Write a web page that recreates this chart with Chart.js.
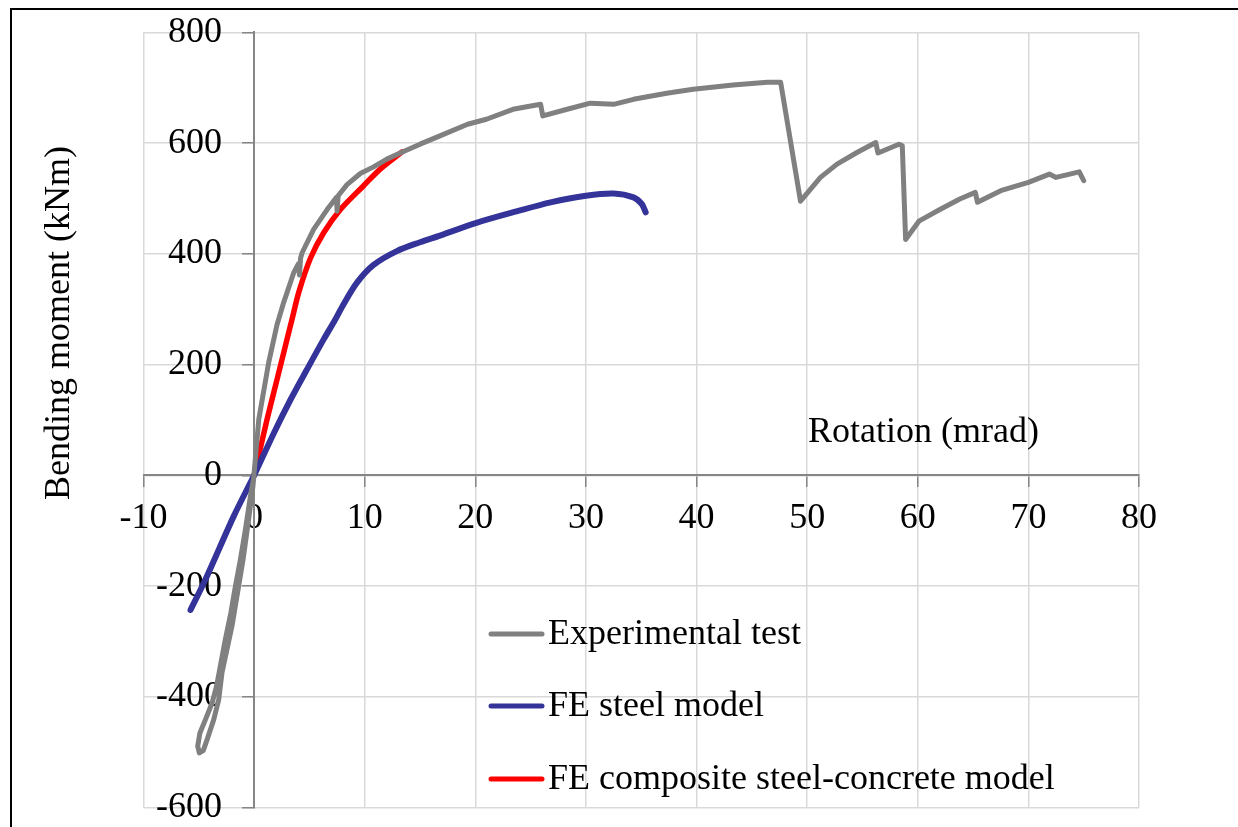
<!doctype html>
<html lang="en">
<head>
    <meta charset="UTF-8">
    <title>Bending moment vs rotation</title>
    <script src="https://cdn.jsdelivr.net/npm/chart.js"></script>
    <style>
        html, body { margin: 0; padding: 0; overflow: hidden; background: #fff; }
        #wrap { position: relative; width: 1238px; height: 827px; }
        #frame { position: absolute; left: 10px; top: 7.5px; width: 3000px; height: 3000px; border: 2px solid #000; pointer-events: none; }
    </style>
</head>
<body>
    <div id="wrap">
        <div id="frame"></div>
        <canvas id="momentChart" width="1238" height="827"></canvas>
    </div>
    <script>
        // Experimental test (rotation in mrad, moment in kNm)
        const expRot = [0, -0.33, -0.79, -1.24, -1.69, -2.1, -2.6, -3.05, -3.4, -3.8, -4.4, -4.9, -5.1, -4.95, -4.6,
            -4.25, -3.65, -3.2, -2.9, -2.45, -2.0, -1.5, -1.0, -0.5, -0.1,
            0.42, 1.32, 2.07, 2.67, 3.58, 4.0, 4.1, 4.2, 4.34, 5.38, 6.6, 7.45, 7.5, 7.6, 8.4, 9.6, 10.8, 12.0, 13.2,
            15.0, 16.8, 19.3, 21.0, 23.4, 25.9, 26.1, 28.3, 30.4, 32.5, 34.3, 37.3, 39.7, 43.3, 46.4, 47.6,
            49.4, 51.2, 52.7, 54.5, 56.2, 56.4, 58.3, 58.6, 58.9, 60.1, 62.0, 63.8, 65.2, 65.4, 67.5, 70.0,
            71.9, 72.5, 74.6, 75.0];
        const expMoment = [0, -37, -98, -152, -200, -248, -296, -344, -381, -411, -441, -465, -489, -501, -497,
            -477, -441, -405, -356, -314, -272, -212, -152, -80, -19,
            101, 204, 272, 312, 366, 382, 362, 392, 402, 444, 480, 502, 477, 505, 525, 545, 557, 571, 582,
            598, 613, 634, 643, 661, 670, 649, 661, 672, 670, 679, 690, 697, 705, 710, 710,
            495, 538, 562, 583, 601, 582, 598, 595, 426, 459, 480, 499, 511, 493, 514, 529,
            544, 538, 548, 532];

        // FE steel model
        const steelRot = [-5.75, -4.4, -1.85, -0.33, 0, 1.8, 3.3, 4.8, 6.3, 7.3, 8.0, 9.3, 10.8, 12.9, 15.0,
            16.8, 20.1, 23.8, 26.8, 30.0, 32.5, 34.3, 35.05, 35.4];
        const steelMoment = [-243, -188, -74, -13, 0, 77, 137, 192, 246, 280, 306, 348, 380, 405, 421,
            433, 456, 477, 493, 505, 509, 502, 490, 475];

        // FE composite steel-concrete model
        const compRot = [0, 1.17, 2.07, 2.98, 3.43, 4.03, 5.09, 6.29, 7.8, 9.9, 11.4, 13.37];
        const compMoment = [0, 101, 173, 246, 282, 330, 392, 438, 480, 523, 553, 584];

        const seriesNames = ['Experimental test', 'FE steel model', 'FE composite steel-concrete model'];
        const xTicks = [-10, 80, 10];   // min, max, step
        const yTicks = [-600, 800, 200];

        const FONT = 'Liberation Serif';

        function toPoints(xs, ys) {
            return xs.map((x, i) => ({ x: x, y: ys[i] }));
        }

        // y labels of an axis placed at x=0 sit right on the axis line; move them left of the tick marks
        const yLabelShift = {
            id: 'yLabelShift',
            beforeDraw(chart) {
                chart.scales.y.getLabelItems(chart.chartArea).forEach(item => {
                    if (!item._shifted) {
                        item.options.translation[0] -= 32;
                        item._shifted = true;
                    }
                });
            }
        };

        // legend and axis titles drawn on top of the plot
        const annotations = {
            id: 'annotations',
            afterDraw(chart) {
                const ctx = chart.ctx;
                ctx.save();
                ctx.fillStyle = '#000';
                ctx.font = '36px "' + FONT + '"';
                ctx.textBaseline = 'middle';

                // x axis title, inside the plot
                ctx.textAlign = 'left';
                ctx.fillText('Rotation (mrad)', 808, 433);

                // y axis title
                ctx.save();
                ctx.translate(60, 323);
                ctx.rotate(-Math.PI / 2);
                ctx.textAlign = 'center';
                ctx.fillText('Bending moment (kNm)', 0, 0);
                ctx.restore();

                // legend
                const rows = [634, 706, 779];
                chart.data.datasets.forEach((ds, i) => {
                    const y = rows[i];
                    ctx.strokeStyle = ds.borderColor;
                    ctx.lineWidth = 5;
                    ctx.lineCap = 'round';
                    ctx.beginPath();
                    ctx.moveTo(491, y);
                    ctx.lineTo(542, y);
                    ctx.stroke();
                    ctx.textAlign = 'left';
                    ctx.fillText(ds.label, 548, y + 1);
                });
                ctx.restore();
            }
        };

        const ctx = document.getElementById('momentChart').getContext('2d');
        const chart = new Chart(ctx, {
            type: 'scatter',
            data: {
                datasets: [{
                    label: seriesNames[0],
                    data: toPoints(expRot, expMoment),
                    borderColor: '#808080',
                    borderWidth: 5,
                    showLine: true,
                    tension: 0,
                    pointRadius: 0,
                    borderCapStyle: 'round',
                    borderJoinStyle: 'round'
                }, {
                    label: seriesNames[1],
                    data: toPoints(steelRot, steelMoment),
                    borderColor: '#333399',
                    borderWidth: 6,
                    showLine: true,
                    tension: 0.3,
                    pointRadius: 0,
                    borderCapStyle: 'round',
                    borderJoinStyle: 'round'
                }, {
                    label: seriesNames[2],
                    data: toPoints(compRot, compMoment),
                    borderColor: '#ff0000',
                    borderWidth: 5.5,
                    showLine: true,
                    tension: 0.3,
                    pointRadius: 0,
                    borderCapStyle: 'round',
                    borderJoinStyle: 'round'
                }]
            },
            options: {
                responsive: false,
                animation: false,
                layout: {
                    padding: { left: 143.5, top: 32.3, right: 99, bottom: 19.3 }
                },
                plugins: {
                    legend: { display: false },
                    tooltip: { enabled: false }
                },
                scales: {
                    x: {
                        type: 'linear',
                        min: xTicks[0],
                        max: xTicks[1],
                        position: { y: 0 },
                        ticks: {
                            stepSize: xTicks[2],
                            color: '#000',
                            font: { family: FONT, size: 36 },
                            padding: 11,
                            maxRotation: 0,
                            autoSkip: false
                        },
                        grid: { color: '#d9d9d9', lineWidth: 1.5, tickColor: '#868686', tickLength: 11, tickWidth: 1.5 },
                        border: { color: '#868686', width: 2 }
                    },
                    y: {
                        type: 'linear',
                        min: yTicks[0],
                        max: yTicks[1],
                        position: { x: 0 },
                        ticks: {
                            stepSize: yTicks[2],
                            color: '#000',
                            font: { family: FONT, size: 36, lineHeight: 1 },
                            padding: 0,
                            autoSkip: false
                        },
                        grid: { color: '#d9d9d9', lineWidth: 1.5, tickColor: '#868686', tickLength: 11, tickWidth: 1.5 },
                        border: { color: '#868686', width: 2 }
                    }
                }
            },
            plugins: [yLabelShift, annotations]
        });
    </script>
</body>
</html>
